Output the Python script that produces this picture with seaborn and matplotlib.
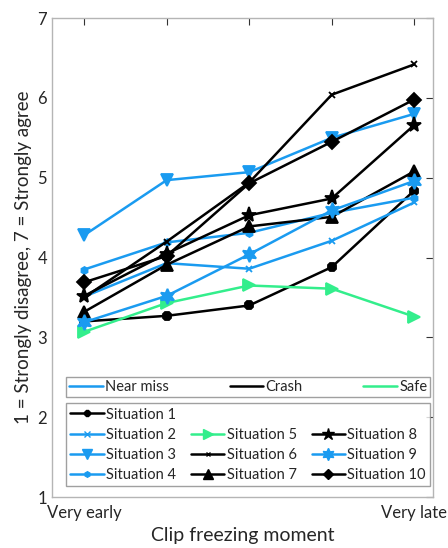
import numpy as np
import pandas as pd
import seaborn as sns
import matplotlib.pyplot as plt
from matplotlib.lines import Line2D

sns.set_style('white')
plt.rcParams['font.family'] = ['Lato', 'DejaVu Sans']

moments = [1, 2, 3, 4, 5]
situations = ['Situation %d' % i for i in range(1, 11)]
outcome = ['Crash', 'Near miss', 'Near miss', 'Near miss', 'Safe',
           'Crash', 'Crash', 'Crash', 'Near miss', 'Crash']

s1 = [3.20, 3.27, 3.40, 3.88, 4.84]
s2 = [3.51, 3.93, 3.86, 4.21, 4.69]
s3 = [4.28, 4.97, 5.07, 5.50, 5.80]
s4 = [3.85, 4.19, 4.31, 4.56, 4.75]
s5 = [3.07, 3.43, 3.65, 3.61, 3.26]
s6 = [3.50, 4.20, 4.94, 6.04, 6.42]
s7 = [3.32, 3.91, 4.39, 4.51, 5.08]
s8 = [3.52, 4.05, 4.53, 4.74, 5.66]
s9 = [3.19, 3.52, 4.04, 4.59, 4.96]
s10 = [3.69, 4.02, 4.93, 5.45, 5.98]
values = [s1, s2, s3, s4, s5, s6, s7, s8, s9, s10]

colors = {'Near miss': '#1a9bf0', 'Crash': 'black', 'Safe': '#33ee8c'}
markers = ['8', 'x', 'v', 'h', '>', 'x', '^', '*', (6, 1, 0), 'D']
msizes = [6, 5, 9, 5, 9, 4, 9, 11, 11, 7]

rows = []
for name, out, vals in zip(situations, outcome, values):
    for m, v in zip(moments, vals):
        rows.append({'situation': name, 'outcome': out, 'moment': m, 'score': v})
df = pd.DataFrame(rows)

fig = plt.figure(figsize=(4.48, 5.48), dpi=100)
ax = fig.add_axes([0.116, 0.093, 0.851, 0.874])

handles = []
for i, name in enumerate(situations):
    c = colors[outcome[i]]
    sub = df[df['situation'] == name]
    sns.lineplot(data=sub, x='moment', y='score', ax=ax, color=c, lw=1.8,
                 marker=markers[i], markersize=msizes[i], markeredgecolor=c,
                 markerfacecolor=c, markeredgewidth=1.3, legend=False)
    handles.append(Line2D([], [], color=c, lw=1.8, marker=markers[i],
                          markersize=msizes[i] * 0.8, markeredgecolor=c,
                          markerfacecolor=c))

ax.set_xlim(0.61, 5.23)
ax.set_ylim(1, 7)
ax.set_xticks(moments)
ax.set_xticklabels(['Very early', '', '', '', 'Very late'])
ax.set_yticks([1, 2, 3, 4, 5, 6, 7])
ax.tick_params(direction='in', length=5, width=0.8, color='#333333',
               labelsize=12, labelcolor='#262626', top=True, right=True)
ax.tick_params(axis='x', pad=6)
for sp in ax.spines.values():
    sp.set_color('#b5b5b5')
    sp.set_linewidth(1)
ax.set_xlabel('Clip freezing moment', fontsize=14, color='#262626', labelpad=4)
ax.set_ylabel('1 = Strongly disagree, 7 = Strongly agree', fontsize=13.5,
              color='#262626', labelpad=4)

# outcome legend
out_handles = [Line2D([], [], color=colors[k], lw=1.8) for k in ['Near miss', 'Crash', 'Safe']]
leg1 = ax.legend(out_handles, ['Near miss', 'Crash', 'Safe'], ncol=3,
                 loc='upper left', bbox_to_anchor=(0.037, 0.2, 0.955, 0.0505),
                 mode='expand', fontsize=10.5, frameon=True, fancybox=False,
                 edgecolor='#888888', handlelength=2.3, handletextpad=0.15,
                 borderpad=0.2, borderaxespad=0, columnspacing=0.5)
leg1.get_frame().set_linewidth(1)
ax.add_artist(leg1)

# situation legend, column-major with empty slots
blank = Line2D([], [], lw=0, alpha=0)
leg_h = handles[0:4] + [blank] + handles[4:7] + [blank] + handles[7:10]
leg_l = situations[0:4] + [''] + situations[4:7] + [''] + situations[7:10]
leg2 = ax.legend(leg_h, leg_l, ncol=3, loc='upper left',
                 bbox_to_anchor=(0.037, 0.03, 0.955, 0.166), mode='expand',
                 fontsize=10.5, frameon=True, fancybox=False,
                 edgecolor='#888888', handlelength=2.3,
                 handletextpad=0.15, borderpad=0.3, borderaxespad=0,
                 columnspacing=0.5, labelspacing=0.42)
leg2.get_frame().set_linewidth(1)

fig.savefig('out.png', dpi=100)
